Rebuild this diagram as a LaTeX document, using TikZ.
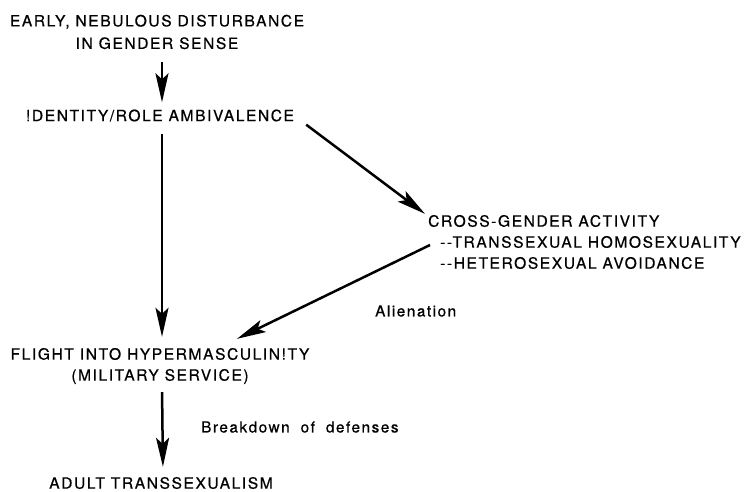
\documentclass[tikz,border=0pt]{standalone}
\usepackage{fontspec}
\setmainfont{TeX Gyre Heros}[LetterSpace=10, FakeBold=0.6]
\usetikzlibrary{positioning}
\usetikzlibrary{calc}
\usetikzlibrary{arrows.meta}

\begin{document}
\begin{tikzpicture}[x=1pt, y=-1pt,
    STAGE/.style={inner sep=3pt, align=center, font=\fontsize{15.6}{21}\selectfont},
    NOTE/.style={inner sep=3pt, anchor=west, font=\fontsize{15.3}{21}\selectfont},
    FLOW/.style={-{Stealth[length=29pt, width=13pt, inset=6pt]}, line width=2.5pt},
    ]
        \useasboundingbox (0,0) rectangle (752,491);

        \node[STAGE, font=\fontsize{15.6}{22.5}\selectfont] (early) at (157,32) {EARLY, NEBULOUS DISTURBANCE\\IN GENDER SENSE};
        \node[STAGE] (ident) at (160,115.5) {!DENTITY/ROLE AMBIVALENCE};
        \node[STAGE, align=left, anchor=west] (cross) at (425,242) {CROSS-GENDER ACTIVITY\\
                         \hspace*{12pt}-{}-TRANSSEXUAL HOMOSEXUALITY\\
                         \hspace*{12pt}-{}-HETEROSEXUAL AVOIDANCE};
        \node[STAGE] (flight) at (160,366) {FLIGHT INTO HYPERMASCULIN!TY\\(MILITARY SERVICE)};
        \node[STAGE] (adult) at (161,483) {ADULT TRANSSEXUALISM};

        \node[NOTE] (alien) at (372,311) {Alienation};
        \node[NOTE] (breakdown) at (198,427) {\spaceskip=11pt\relax Breakdown of defenses};

        % arrows
        \draw[FLOW, shorten <=10pt, shorten >=4pt] (early.south -| 162,0) -- ([xshift=2pt]ident.north);
        \draw[FLOW, shorten <=9pt, shorten >=8pt] ([xshift=2pt]ident.south) -- ([xshift=2pt]flight.north);
        \draw[FLOW] ([xshift=9pt]ident.south east) -- ([yshift=-2pt]cross.north west);
        \draw[FLOW] ([xshift=5pt, yshift=-3pt]cross.west) -- ([xshift=77pt, yshift=6pt]flight.north);
        \draw[FLOW, shorten <=5pt, shorten >=7pt] ([xshift=2pt]flight.south) -- ([xshift=2pt]adult.north);
    \end{tikzpicture}
\end{document}
